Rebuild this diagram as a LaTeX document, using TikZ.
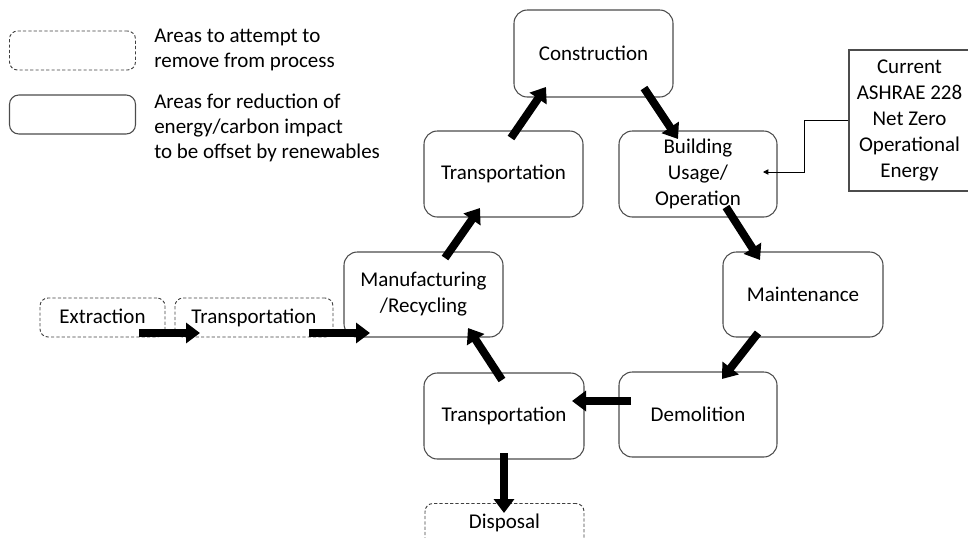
\documentclass[tikz,border=0pt]{standalone}
\usepackage{fontspec}
\setmainfont{Carlito}
\usetikzlibrary{arrows.meta,calc}
\begin{document}
\begin{tikzpicture}[x=0.75pt,y=-0.75pt,
  font=\fontsize{15.75}{19.5}\selectfont,
  solidbox/.style 2 args={draw=black!70, line width=0.8pt, rounded corners=10pt,
    minimum width=#1*0.75pt, minimum height=#2*0.75pt, inner sep=0pt, align=center},
  dashbox/.style 2 args={draw=black!75, line width=0.7pt, dash pattern=on 2.4pt off 1.6pt,
    rounded corners=6pt, minimum width=#1*0.75pt, minimum height=#2*0.75pt, inner sep=0pt, align=center},
  oneline/.style={text height=0.92em, text depth=0pt},
  bigarrow/.style={line width=6pt, -{Triangle[length=10.5pt,width=15pt]}},
  thinarrow/.style={line width=0.6pt, -{Triangle[length=4pt,width=4pt]}}]
\useasboundingbox (0,0) rectangle (968,537);
\clip (0,0) rectangle (968,537);

% legend
\node[dashbox={126}{39}] (leg1) at (72.5,50.5) {};
\node[solidbox={126}{39}, rounded corners=7pt] (leg2) at (72.5,114.5) {};
\node[anchor=west, align=left, inner sep=0pt, font=\fontsize{15.75}{18.75}\selectfont] (legt1) at (154,50) {Areas to attempt to\\remove from process};
\node[anchor=west, align=left, inner sep=0pt, font=\fontsize{15.75}{18.75}\selectfont] (legt2) at (154,128) {Areas for reduction of\\energy/carbon impact\\to be offset by renewables};

% process nodes
\node[dashbox={125}{39}, oneline] (ext) at (102.5,317.5) {Extraction};
\node[dashbox={158}{39}, oneline] (trd) at (254,317.5) {Transportation};
\node[solidbox={159}{87}] (cons) at (593.5,53.5) {Construction};
\node[solidbox={159}{86}] (trt) at (503.5,174) {Transportation};
\node[solidbox={158}{86}] (bld) at (698,174) {Building\\Usage/\\Operation};
\node[draw=black!70, line width=0.8pt, minimum width=121*0.75pt, minimum height=141*0.75pt, inner sep=0pt, align=center] (ash) at (909.5,120.5) {Current\\ASHRAE 228\\Net Zero\\Operational\\Energy};
\node[solidbox={160}{85}] (mnt) at (803,294.5) {Maintenance};
\node[solidbox={159}{85}] (man) at (423.5,294.5) {Manufacturing\\/Recycling};
\node[solidbox={158}{85}] (dem) at (698,414.5) {Demolition};
\node[solidbox={160}{86}] (trb) at (504,416) {Transportation};
\node[dashbox={159}{86}, anchor=north] (dis) at (504.5,503) {};
\node[inner sep=0pt, oneline] (dist) at ($(dis.north)+(0,19)$) {Disposal};

% thick arrows
\draw[bigarrow] ($(ext.center)+(36.5,15.5)$) -- ($(trd.center)+(-54,15.5)$);
\draw[bigarrow] ($(trd.center)+(55,15.5)$) -- ($(man.center)+(-53.5,38.5)$);
\draw[bigarrow] ($(trb.center)+(-2,-36)$) -- ($(man.center)+(44.5,33.5)$);
\draw[bigarrow] ($(man.center)+(21.5,-36.5)$) -- ($(trt.center)+(-23.5,34)$);
\draw[bigarrow] ($(trt.center)+(7.5,-36)$) -- ($(cons.center)+(-47.5,33.5)$);
\draw[bigarrow] ($(cons.center)+(50.5,34.5)$) -- ($(bld.center)+(-20,-35)$);
\draw[bigarrow] ($(bld.center)+(28,33)$) -- ($(mnt.center)+(-43,-34.5)$);
\draw[bigarrow] ($(mnt.center)+(-45,38.5)$) -- ($(dem.center)+(24,-35.5)$);
\draw[bigarrow] ($(dem.center)+(-67,-13.5)$) -- ($(trb.center)+(68,-15)$);
\draw[bigarrow] ($(trb.center)+(0,37)$) -- ($(dis.north)+(-0.5,10)$);

% ASHRAE connector
\draw[thinarrow] (ash.west) -- ++(-44,0) |- ($(bld.center)+(65,-2)$);
\end{tikzpicture}
\end{document}
